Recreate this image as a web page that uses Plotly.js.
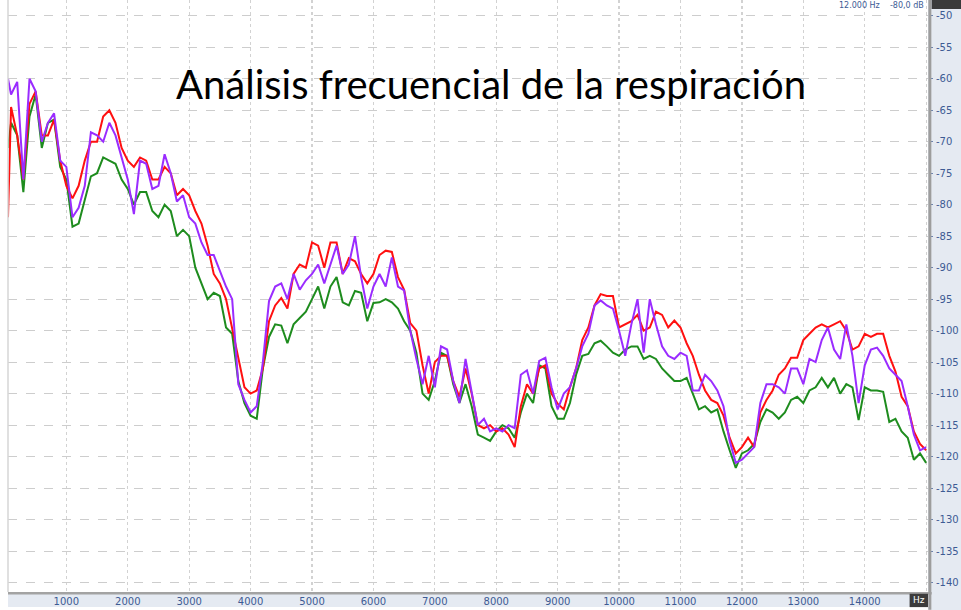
<!DOCTYPE html>
<html>
<head>
<meta charset="utf-8">
<script src="https://cdn.plot.ly/plotly-3.0.1.min.js"></script>
<style>
html,body{margin:0;padding:0;background:#fff;}
#chart{width:961px;height:610px;}
</style>
</head>
<body>
<div id="chart"></div>
<script>
var titleText = "Análisis frecuencial de la respiración";
var freqHz = [50,100,200,300,400,500,600,700,800,900,1000,1100,1200,1300,1400,1500,1600,1700,1800,1900,
2000,2100,2200,2300,2400,2500,2600,2700,2800,2900,3000,3100,3200,3300,3400,3500,3600,3700,3800,3900,
4000,4100,4200,4300,4400,4500,4600,4700,4800,4900,5000,5100,5200,5300,5400,5500,5600,5700,5800,5900,
6000,6100,6200,6300,6400,6500,6600,6700,6800,6900,7000,7100,7200,7300,7400,7500,7600,7700,7800,7900,
8000,8100,8200,8300,8400,8500,8600,8700,8800,8900,9000,9100,9200,9300,9400,9500,9600,9700,9800,9900,
10000,10100,10200,10300,10400,10500,10600,10700,10800,10900,11000,11100,11200,11300,11400,11500,11600,11700,11800,11900,
12000,12100,12200,12300,12400,12500,12600,12700,12800,12900,13000,13100,13200,13300,13400,13500,13600,13700,13800,13900,
14000,14100,14200,14300,14400,14500,14600,14700,14800,14900,15000];

var redDb = [-82,-64.5,-69,-76,-64,-62,-69,-69,-66.5,-73,-77,-79,-77,-73,-70,-70,-66,-65,-67,-71,
-73,-74,-72.5,-73,-76,-76,-74,-75,-78.5,-77.5,-78.5,-81,-83,-86.5,-91,-92.5,-95,-99.5,-104.5,-109,
-110,-109.5,-106,-98.5,-96,-94.8,-96.5,-91,-89.5,-90,-86,-86.5,-90,-86,-86,-91,-88.5,-89,-91,-92.5,
-91,-88,-87.3,-87.5,-91.5,-93.5,-98.8,-100,-105.5,-110,-105,-104,-104,-108,-110.5,-106,-110,-115,-115.5,-115,
-116,-115.5,-116.5,-118.5,-112,-108.5,-110,-106,-105.5,-110,-111.6,-112.5,-109,-106,-101.5,-99.5,-96,-94.2,-94.5,-94.5,
-99.5,-99,-98.5,-97.5,-100,-99.5,-97,-97.5,-99.5,-98.4,-99.5,-102,-104,-107,-109.5,-111,-111.5,-113.5,-117,-119.5,
-118.5,-117,-118.5,-113,-111,-109.5,-107,-106,-104.3,-104.3,-101.5,-100.5,-99.5,-99,-99.5,-99,-98.5,-100,-103,-102.5,
-100.5,-101,-100.5,-100.5,-104,-106.5,-110.5,-112,-116,-118,-119];

var purpleDb = [-60,-62.5,-60.5,-76,-60,-62,-70,-67,-65.5,-73,-74,-82,-80.5,-77,-68.5,-69,-70,-67,-69,-72.5,
-76,-81.5,-73,-73.5,-77.5,-77,-72,-75,-79.5,-78.5,-82,-83,-86,-88,-88,-90.5,-93,-95,-108.5,-111,
-113,-112,-105,-95.3,-93,-92.5,-95,-91,-93.5,-92,-91,-89.5,-92.5,-89.5,-86.5,-91,-89.5,-85,-91.5,-96.5,
-93,-91,-93,-88.4,-93,-93.6,-100,-104.5,-108.5,-104,-109,-102.5,-103,-108,-111.5,-104.5,-110,-115,-114,-116,
-115.5,-116,-115,-115.5,-107,-106.3,-110,-104.8,-104.3,-109,-112.5,-110,-109,-106,-102.5,-100.5,-96,-95.2,-96,-96.5,
-100,-104,-99,-95,-103.5,-95,-99,-102.5,-104,-104.5,-103.5,-104,-109.5,-109.5,-107,-108,-109.5,-112,-117.5,-121,
-120.5,-119.5,-118.5,-111.5,-108.5,-108.5,-109,-110,-106,-106,-108.5,-104.5,-105,-101.5,-99.5,-103,-104.5,-99,-104,-111.5,
-105.5,-103,-102.7,-104,-106,-107,-108,-112,-116.5,-119,-118.5];

var greenDb = [-71,-67,-69,-78,-66,-62.5,-71,-67,-66.5,-74,-76,-83.5,-83,-79,-75.5,-75,-72.5,-73,-73.5,-76,
-77.5,-80,-78,-78,-81,-82,-80,-81,-85,-84,-85,-90,-92.5,-95,-94,-94.5,-99.5,-100.5,-108,-111.5,
-113.5,-114,-106,-101,-99,-99.2,-102,-99,-98,-97,-95,-93,-96.5,-93,-91.5,-95.5,-96,-93.7,-94,-98.5,
-95.6,-95.5,-95,-95.5,-96.5,-98.5,-100,-103.5,-110,-111,-108,-103.5,-104,-108.5,-111.5,-108.5,-112,-116.5,-117,-117.5,
-116,-115,-115.5,-117,-113,-110,-111.5,-105.5,-106,-112,-114,-114,-111.5,-107,-104,-103.7,-102,-101.6,-102.5,-103.5,
-104,-103,-102.5,-102.5,-104.5,-104,-104.5,-106,-107,-108,-108,-107.5,-110,-112.5,-112,-113,-112.5,-116,-119,-121.8,
-119.5,-119,-118,-114.5,-112.5,-113,-114,-113,-111,-110.5,-111.5,-109.5,-109,-107.5,-109,-107.5,-110,-108.5,-109,-114.2,
-109,-109.5,-109.5,-109.7,-114.5,-114,-116,-117,-120.5,-119.5,-121];

var xTickVals = [1000,2000,3000,4000,5000,6000,7000,8000,9000,10000,11000,12000,13000,14000,15000];
var xTickText = ["1000","2000","3000","4000","5000","6000","7000","8000","9000","10000","11000","12000","13000","14000",""];
var yTickVals = [-50,-55,-60,-65,-70,-75,-80,-85,-90,-95,-100,-105,-110,-115,-120,-125,-130,-135,-140];
var yTickText = ["-50","-55","-60","-65","-70","-75","-80","-85","-90","-95","-100","-105","-110","-115","-120","-125","-130","-135","-140"];
var unitLabel = "Hz";
var topInfo = "12.000 Hz    -80,0 dB";

var traces = [
  {x: freqHz, y: greenDb, type: 'scatter', mode: 'lines', line: {color: '#1e8c1e', width: 2}, hoverinfo: 'skip'},
  {x: freqHz, y: redDb, type: 'scatter', mode: 'lines', line: {color: '#ff1010', width: 2}, hoverinfo: 'skip'},
  {x: freqHz, y: purpleDb, type: 'scatter', mode: 'lines', line: {color: '#9a2cff', width: 2}, hoverinfo: 'skip'}
];

var tickFont = {family: 'DejaVu Sans, Verdana, sans-serif', size: 10, color: '#3d5b94'};

var layout = {
  width: 961, height: 610,
  margin: {l: 8, r: 33, t: 0, b: 18, pad: 0},
  paper_bgcolor: '#ffffff', plot_bgcolor: '#ffffff',
  showlegend: false,
  xaxis: {
    range: [50, 15030], tickvals: xTickVals, ticktext: xTickText,
    showgrid: true, gridcolor: '#d2d2d2', griddash: 'dot', gridwidth: 1.2,
    zeroline: false, showline: false, ticks: '', tickfont: tickFont,
    ticklabelstandoff: 2, fixedrange: true
  },
  yaxis: {
    range: [-141.5, -47.5], side: 'right', tickvals: yTickVals, ticktext: yTickText,
    showgrid: true, gridcolor: '#cdcdcd', griddash: 'dash', gridwidth: 1,
    zeroline: false, showline: false, ticks: 'outside', ticklen: 4, tickcolor: '#6d82ad',
    tickfont: tickFont, ticklabelstandoff: 1, fixedrange: true
  },
  shapes: [
    {type: 'rect', xref: 'paper', yref: 'paper', x0: 1, x1: 1.04, y0: -0.05, y1: 1.01, fillcolor: '#e5eaf2', line: {width: 0}, layer: 'below'},
    {type: 'rect', xref: 'paper', yref: 'paper', x0: 0, x1: 1, y0: -0.0255, y1: 0, fillcolor: '#e5eaf2', line: {width: 0}, layer: 'below'},
    {type: 'line', xref: 'paper', yref: 'paper', x0: 0, x1: 1.004, y0: -0.002, y1: -0.002, line: {color: '#a3a3a3', width: 2.5}},
    {type: 'line', xref: 'paper', yref: 'paper', x0: 1.002, x1: 1.002, y0: -0.03, y1: 1.01, line: {color: '#9d9d9d', width: 3}},
    {type: 'line', xref: 'paper', yref: 'paper', x0: 0, x1: 0, y0: 0, y1: 1.01, line: {color: '#d6d6d6', width: 1.5}},
    {type: 'rect', xref: 'paper', yref: 'paper', x0: 1.004, x1: 1.04, y0: 0.985, y1: 1.01, fillcolor: '#3a3a3a', line: {width: 0}},
    {type: 'rect', xref: 'paper', yref: 'paper', x0: 0.980, x1: 1.0, y0: -0.0255, y1: -0.003, fillcolor: '#3c3c3c', line: {width: 0}}
  ],
  annotations: [
    {text: titleText, xref: 'paper', yref: 'paper', x: 0.5255, y: 0.858, xanchor: 'center', yanchor: 'middle',
     showarrow: false, font: {family: 'Lato, Open Sans, sans-serif', size: 40, color: '#000000'}},
    {text: unitLabel, xref: 'paper', yref: 'paper', x: 0.990, y: -0.0143, xanchor: 'center', yanchor: 'middle',
     showarrow: false, font: {family: 'DejaVu Sans, sans-serif', size: 9, color: '#ffffff'}},
    {text: topInfo, xref: 'paper', yref: 'paper', x: 0.997, y: 1.0, xanchor: 'right', yanchor: 'top',
     showarrow: false, borderpad: 0, font: {family: 'DejaVu Sans, sans-serif', size: 8, color: '#3d5b94'}}
  ]
};

Plotly.newPlot('chart', traces, layout, {displayModeBar: false, staticPlot: true});
</script>
</body>
</html>
